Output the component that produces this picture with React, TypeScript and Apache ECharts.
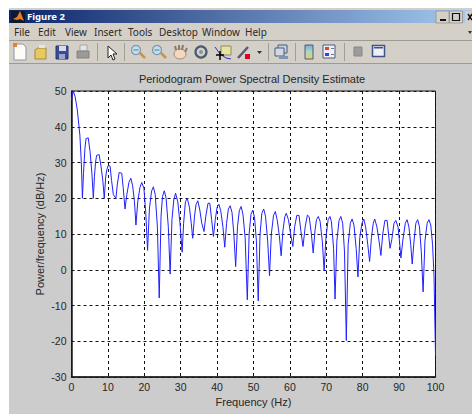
import React, { useEffect, useRef } from "react";
import * as echarts from "echarts";

const freqHz = [
  0, 0.5, 1, 1.6, 2.3, 2.7, 3,
  3.3, 3.7, 4, 4.6, 5.1, 5.6, 6,
  6.3, 6.6, 6.9, 7.6, 8.1, 8.6, 9,
  9.4, 9.7, 10.1, 10.6, 11, 11.5, 12.2,
  12.6, 13.1, 13.8, 14.2, 14.7,
  15.2, 15.8, 16.3, 16.8, 17.3, 17.7,
  18.2, 18.8, 19.3, 19.9, 20.4, 20.9,
  21.4, 22, 22.5, 23, 23.6, 24.1,
  24.6, 25, 25.5, 26, 26.6, 27.1,
  27.6, 28.1, 28.6, 29.2, 29.8, 30.4,
  30.8, 31.3, 31.8, 32.4, 32.9, 33.3,
  33.8, 34.2, 34.7, 35.2, 35.8, 36.4,
  36.9, 37.5, 38, 38.5, 39,
  39.5, 40, 40.5, 41, 41.6, 42.1,
  42.6, 43.1, 43.6, 44.1, 44.6, 45.1,
  45.6, 46.1, 46.6, 47.1, 47.7, 48.3,
  48.8, 49.3, 49.8, 50.3, 50.8, 51.3,
  51.8, 52.3, 52.8, 53.3, 53.9, 54.4,
  54.9, 55.5, 56, 56.5, 57.1, 57.6,
  58.1, 58.6, 59, 59.6, 60.2, 60.8,
  61.3, 61.9, 62.5, 63, 63.6,
  64.2, 64.8, 65.3, 65.9, 66.4,
  66.9, 67.3, 67.8, 68.3, 68.9, 69.4,
  69.9, 70.5, 71, 71.4, 72, 72.4,
  72.9, 73.5, 74, 74.5, 75, 75.5,
  76, 76.6, 77.1, 77.6, 78.2, 78.7,
  79.2, 79.8, 80.3, 80.8, 81.4, 81.9,
  82.4, 82.9, 83.3, 83.9, 84.5, 85,
  85.5, 86.1, 86.7, 87.1, 87.5,
  88, 88.6, 89.1, 89.7, 90.1, 90.5,
  91, 91.7, 92.2, 92.7, 93.2, 93.6,
  94.1, 94.6, 95.1, 95.6, 96.1, 96.6,
  97.1, 97.7, 98.2, 98.7, 99.2, 99.6, 100,
];

const powerDb = [
  47.5, 50, 48.4, 44.7, 37.7, 30, 20,
  27, 34, 36.7, 36.9, 33, 27, 20,
  26, 30, 32, 32.2, 29, 25, 20,
  26, 28, 29.2, 29, 25, 21, 20,
  24, 27.2, 27, 23, 17,
  21, 24.5, 25.6, 23.5, 19, 12.5,
  19, 23, 24.4, 22.8, 16, 5.4,
  17, 22, 23.2, 21, 12, -7.9,
  15, 20.5, 22.1, 20, 12, -1.2,
  14, 19.5, 21.4, 19, 13, 4.9,
  13, 19, 20, 17.5, 13, 8.8,
  15, 18.2, 19.3, 17, 13, 10.7,
  15, 18.6, 18.6, 14, 9.3,
  14, 17.5, 18.3, 16.5, 12, 6.3,
  13, 17, 17.9, 16, 10, 0.9,
  12, 16.5, 17.7, 15.5, 9, -8.4,
  10, 15.5, 16.7, 14.5, 8, -8.7,
  10, 15.8, 17, 15, 8, -1.7,
  10, 15.2, 16.3, 14, 9.5, 3.9,
  11, 14.8, 15.8, 14, 10, 6.5,
  12, 15.2, 15.2, 11, 6.5,
  12, 15.3, 14.8, 10, 4.7,
  11, 14, 14.9, 13.5, 8, -0.3,
  9, 14, 14.9, 13.5, 6, -8.2,
  8, 13.8, 14.9, 13, 5, -19.8,
  7, 13, 14.2, 12.5, 6, -2,
  9, 13, 14.2, 12, 7, 2.3,
  9, 13, 14.2, 12, 8, 4,
  10, 13.8, 13.8, 10, 6,
  8.5, 13, 13.8, 12, 8, 3.3,
  8, 13, 14, 12, 7, 1.6,
  8, 13, 14, 12, 5, -6.2,
  8, 13, 14, 12.5, 7, -2, -24,
];

const chartTitle = "Periodogram Power Spectral Density Estimate";
const xAxisName = "Frequency (Hz)";
const yAxisName = "Power/frequency (dB/Hz)";
const windowTitle = "Figure 2";
const menuLabels = ["File", "Edit", "View", "Insert", "Tools", "Desktop", "Window", "Help"];
const menuLefts = [14, 38, 65, 94, 128, 159, 202, 245];
const separatorLefts = [97, 124, 268, 295, 344];

const W = 472;
const H = 414;
const UI_FONT = "'Noto Sans', Tahoma, sans-serif";
const AXIS_FONT = "'Liberation Sans', Arial, sans-serif";

function magnifier(cx: number) {
  return [
    { type: "line", z: 1, shape: { x1: cx + 3, y1: 53, x2: cx + 8, y2: 58 }, style: { stroke: "#c9924a", lineWidth: 2.5 } },
    { type: "circle", z: 1, shape: { cx: cx - 1, cy: 50, r: 4.5 }, style: { fill: "#bfe0f2", stroke: "#7f97a8", lineWidth: 1.2 } },
    { type: "line", z: 1, shape: { x1: cx - 3.5, y1: 50, x2: cx + 1.5, y2: 50 }, style: { stroke: "#5a7f9a", lineWidth: 1 } },
  ];
}

function chromeElements(): any[] {
  const els: any[] = [
    { type: "rect", z: -5, shape: { x: 9, y: 8, width: W - 9, height: H - 8 }, style: { fill: "#cccccc" } },
    { type: "rect", z: -4, shape: { x: 9, y: 8, width: W - 9, height: 2 }, style: { fill: "#d4d0c8" } },
    {
      type: "rect", z: -4, shape: { x: 9, y: 10, width: W - 9, height: 13 },
      style: { fill: new echarts.graphic.LinearGradient(0, 0, 1, 0, [
        { offset: 0, color: "#0a246a" },
        { offset: 1, color: "#a6caf0" },
      ]) },
    },
    { type: "rect", z: -4, shape: { x: 9, y: 23, width: W - 9, height: 18 }, style: { fill: "#d4d0c8" } },
    { type: "rect", z: -4, shape: { x: 9, y: 40, width: W - 9, height: 1 }, style: { fill: "#9c9a94" } },
    { type: "rect", z: -4, shape: { x: 9, y: 41, width: W - 9, height: 22 }, style: { fill: "#d4d0c8" } },
    { type: "rect", z: -4, shape: { x: 9, y: 63, width: W - 9, height: 1 }, style: { fill: "#9c9a94" } },
    { type: "rect", z: -3, shape: { x: 11, y: 11, width: 14, height: 12 }, style: { fill: "#101830" } },
    { type: "polygon", z: -2, shape: { points: [[13, 19], [17, 17], [20, 11], [24, 21], [20, 19], [17, 20]] }, style: { fill: "#e8801c" } },
    { type: "text", z: 1, x: 27, y: 16.5, style: { text: windowTitle, fill: "#fff", font: `bold 9.5px ${UI_FONT}`, verticalAlign: "middle" } },
  ];

  [436, 449.5].forEach((x) => {
    els.push({ type: "rect", z: 1, shape: { x, y: 11, width: 13, height: 12 }, style: { fill: "#d4d0c8", stroke: "#808080", lineWidth: 0.6 } });
  });
  els.push({ type: "rect", z: 2, shape: { x: 440, y: 19, width: 6, height: 2 }, style: { fill: "#111" } });
  els.push({ type: "rect", z: 2, shape: { x: 452.5, y: 13.5, width: 7, height: 7 }, style: { fill: "none", stroke: "#111", lineWidth: 1.2 } });
  els.push({ type: "rect", z: 1, shape: { x: 465, y: 11, width: 7, height: 12 }, style: { fill: "#d4d0c8" } });
  els.push({ type: "line", z: 2, shape: { x1: 468, y1: 14, x2: 472, y2: 20 }, style: { stroke: "#111", lineWidth: 1.4 } });
  els.push({ type: "line", z: 2, shape: { x1: 472, y1: 14, x2: 468, y2: 20 }, style: { stroke: "#111", lineWidth: 1.4 } });
  els.push({ type: "polygon", z: 2, shape: { points: [[468, 31], [472, 31], [470, 34]] }, style: { fill: "#333" } });

  menuLabels.forEach((label, i) => {
    els.push({ type: "text", z: 1, x: menuLefts[i], y: 32, style: { text: label, fill: "#2a2a2a", font: `10px ${UI_FONT}`, verticalAlign: "middle" } });
  });

  separatorLefts.forEach((x) => {
    els.push({ type: "rect", z: 1, shape: { x, y: 43, width: 1, height: 18 }, style: { fill: "#a09e98" } });
  });

  els.push(
    // new file
    { type: "polygon", z: 1, shape: { points: [[14, 44], [23, 44], [26, 47], [26, 60], [14, 60]] }, style: { fill: "#fdfdf6", stroke: "#8a97b5", lineWidth: 1 } },
    { type: "rect", z: 2, shape: { x: 13, y: 43, width: 4, height: 4 }, style: { fill: "#e0803a" } },
    // open
    { type: "polygon", z: 1, shape: { points: [[35, 50], [38, 48], [46, 48], [46, 59], [35, 59]] }, style: { fill: "#e8c860", stroke: "#a58a3a", lineWidth: 1 } },
    { type: "rect", z: 1, shape: { x: 39, y: 45, width: 6, height: 3 }, style: { fill: "#e6e6e0" } },
    // save
    { type: "rect", z: 1, shape: { x: 56, y: 46, width: 12, height: 13 }, style: { fill: "#3a4c94", stroke: "#2a3670", lineWidth: 1 } },
    { type: "rect", z: 2, shape: { x: 59, y: 46, width: 7, height: 5 }, style: { fill: "#d8dcea" } },
    { type: "rect", z: 2, shape: { x: 59, y: 54, width: 6, height: 5 }, style: { fill: "#9aa4c8" } },
    // print
    { type: "rect", z: 1, shape: { x: 80, y: 45, width: 7, height: 6 }, style: { fill: "#e4e4e4", stroke: "#999", lineWidth: 0.8 } },
    { type: "rect", z: 1, shape: { x: 77, y: 51, width: 12, height: 7 }, style: { fill: "#9a9a9a", stroke: "#777", lineWidth: 0.8 } },
    // pointer
    { type: "polygon", z: 1, shape: { points: [[108, 46], [108, 58], [111, 55], [113, 60], [115, 59], [113, 54], [117, 54]] }, style: { fill: "#fff", stroke: "#222", lineWidth: 1 } },
    ...magnifier(137),
    ...magnifier(158),
    // hand
    { type: "ellipse", z: 1, shape: { cx: 180, cy: 54, rx: 6, ry: 5 }, style: { fill: "#f3d9bd", stroke: "#8a7a70", lineWidth: 0.8 } },
    { type: "polyline", z: 1, shape: { points: [[176, 50], [175, 46]] }, style: { stroke: "#8a7a70", lineWidth: 2 } },
    { type: "polyline", z: 1, shape: { points: [[179, 50], [179, 45]] }, style: { stroke: "#8a7a70", lineWidth: 2 } },
    { type: "polyline", z: 1, shape: { points: [[182, 50], [183, 45]] }, style: { stroke: "#8a7a70", lineWidth: 2 } },
    { type: "polyline", z: 1, shape: { points: [[185, 52], [187, 48]] }, style: { stroke: "#8a7a70", lineWidth: 2 } },
    // rotate
    { type: "circle", z: 1, shape: { cx: 201, cy: 52, r: 5.5 }, style: { fill: "#d4d0c8", stroke: "#4a5a70", lineWidth: 2.2 } },
    { type: "circle", z: 2, shape: { cx: 201, cy: 52, r: 2 }, style: { fill: "#8a96a6" } },
    // data cursor
    { type: "rect", z: 1, shape: { x: 221, y: 46, width: 10, height: 9 }, style: { fill: "#e6e2a0", stroke: "#8c8c5a", lineWidth: 1 } },
    { type: "polyline", z: 1, shape: { points: [[215, 47], [220, 54], [226, 58], [231, 59]] }, style: { stroke: "#3030c0", lineWidth: 1, fill: "none" } },
    { type: "line", z: 2, shape: { x1: 216, y1: 55, x2: 224, y2: 55 }, style: { stroke: "#000", lineWidth: 1.5 } },
    { type: "line", z: 2, shape: { x1: 220, y1: 51, x2: 220, y2: 60 }, style: { stroke: "#000", lineWidth: 1.5 } },
    // brush
    { type: "line", z: 1, shape: { x1: 238, y1: 58, x2: 248, y2: 47 }, style: { stroke: "#5a5a70", lineWidth: 2.5 } },
    { type: "rect", z: 2, shape: { x: 245, y: 54, width: 5, height: 5 }, style: { fill: "#e00020" } },
    { type: "polygon", z: 1, shape: { points: [[257, 51], [262, 51], [259.5, 54]] }, style: { fill: "#333" } },
    // link
    { type: "rect", z: 1, shape: { x: 278, y: 45, width: 9, height: 8 }, style: { fill: "#c4d0e0", stroke: "#4a5a7a", lineWidth: 1 } },
    { type: "rect", z: 2, shape: { x: 275, y: 48, width: 9, height: 8 }, style: { fill: "#d4dae4", stroke: "#4a5a7a", lineWidth: 1 } },
    { type: "rect", z: 2, shape: { x: 279, y: 56, width: 9, height: 3 }, style: { fill: "#8096b0" } },
    // colorbar
    {
      type: "rect", z: 1, shape: { x: 305, y: 45, width: 8, height: 14 },
      style: {
        stroke: "#4a5a7a", lineWidth: 1,
        fill: new echarts.graphic.LinearGradient(0, 0, 0, 1, [
          { offset: 0, color: "#7fa8d8" },
          { offset: 0.5, color: "#a8dcc0" },
          { offset: 1, color: "#f0c870" },
        ]),
      },
    },
    // legend
    { type: "rect", z: 1, shape: { x: 323, y: 45, width: 12, height: 13 }, style: { fill: "#eef0f6", stroke: "#4a5a8a", lineWidth: 1 } },
    { type: "rect", z: 2, shape: { x: 325, y: 47, width: 4, height: 3 }, style: { fill: "#e04040" } },
    { type: "rect", z: 2, shape: { x: 325, y: 53, width: 4, height: 3 }, style: { fill: "#4040e0" } },
    { type: "rect", z: 2, shape: { x: 331, y: 48, width: 3, height: 1 }, style: { fill: "#777" } },
    { type: "rect", z: 2, shape: { x: 331, y: 54, width: 3, height: 1 }, style: { fill: "#777" } },
    // hide plot tools
    { type: "rect", z: 1, shape: { x: 354, y: 47, width: 8, height: 9 }, style: { fill: "#9c9c9c", stroke: "#888", lineWidth: 1 } },
    // show plot tools
    { type: "rect", z: 1, shape: { x: 372.5, y: 45.5, width: 12, height: 11 }, style: { fill: "#eef0f6", stroke: "#3e5288", lineWidth: 1.5 } },
    { type: "rect", z: 2, shape: { x: 374, y: 47, width: 9, height: 1.5 }, style: { fill: "#3e5288" } },
  );
  return els;
}

export default function App() {
  const ref = useRef<HTMLDivElement>(null);

  useEffect(() => {
    const chart = echarts.init(ref.current!, undefined, { renderer: "svg", width: W, height: H });
    const axisText = { color: "#262626", fontFamily: AXIS_FONT, fontSize: 10.5 };
    const nameText = { ...axisText, fontSize: 11 };
    chart.setOption({
      animation: false,
      backgroundColor: "#ffffff",
      title: {
        text: chartTitle,
        left: 247,
        top: 68.5,
        textAlign: "center",
        textStyle: { color: "#262626", fontFamily: AXIS_FONT, fontSize: 11, fontWeight: "normal" },
      },
      grid: {
        left: 71.5, top: 91, width: 364, height: 286,
        show: true, backgroundColor: "#ffffff", borderColor: "#1a1a1a", borderWidth: 1,
      },
      xAxis: {
        type: "value", min: 0, max: 100, interval: 10,
        name: xAxisName, nameLocation: "middle", nameGap: 18,
        nameTextStyle: nameText,
        axisLine: { show: true, onZero: false, lineStyle: { color: "#1a1a1a", width: 1.5 } },
        axisTick: { show: false },
        axisLabel: { ...axisText, margin: 4 },
        splitLine: { show: true, lineStyle: { color: "#111", type: [3, 3], width: 1 } },
      },
      yAxis: {
        type: "value", min: -30, max: 50, interval: 10,
        name: yAxisName, nameLocation: "middle", nameGap: 26, nameRotate: 90, nameMoveOverlap: false,
        nameTextStyle: nameText,
        axisLine: { show: true, onZero: false, lineStyle: { color: "#1a1a1a", width: 1.5 } },
        axisTick: { show: false },
        axisLabel: { ...axisText, margin: 5 },
        splitLine: { show: true, lineStyle: { color: "#111", type: [3, 3], width: 1 } },
      },
      series: [
        {
          type: "line",
          data: freqHz.map((f, i) => [f, powerDb[i]]),
          showSymbol: false,
          smooth: false,
          lineStyle: { color: "#2020ff", width: 1 },
          z: 5,
        },
      ],
      graphic: { elements: chromeElements() },
    });
    return () => chart.dispose();
  }, []);

  return <div ref={ref} style={{ position: "absolute", left: 0, top: 0, width: W, height: H }} />;
}
